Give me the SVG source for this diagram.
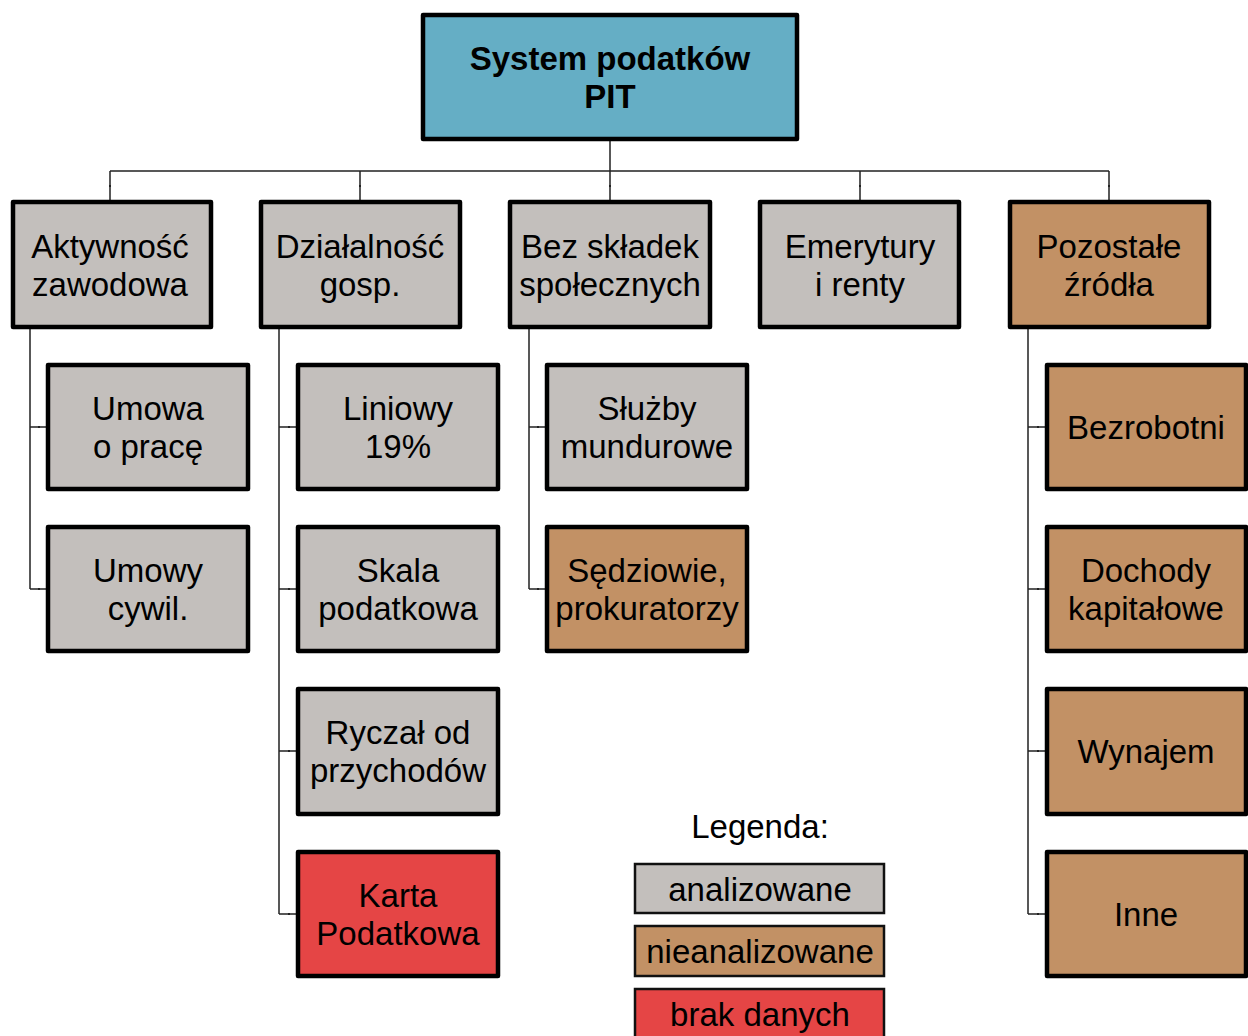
<svg xmlns="http://www.w3.org/2000/svg" width="1248" height="1036" viewBox="0 0 1248 1036">
<style>
.box{stroke:#000;stroke-width:4.5;stroke-linejoin:round}
.g{fill:#C3BFBC}.t{fill:#C29165}.r{fill:#E54545}.b{fill:#65AEC5}
.lg{stroke:#111;stroke-width:2.5}
text{font-family:"Liberation Sans",Arial,sans-serif;font-size:33px;fill:#000;text-anchor:middle}
.bold{font-weight:bold}
.c{fill:none;stroke:#222;stroke-width:1.5}
.dot{fill:#222}
</style>
<rect width="1248" height="1036" fill="#fff"/>
<g id="connectors">
<path class="c" d="M610 141V171M110 171H1109M110 171V202M360 171V202M610 171V202M860 171V202M1109 171V202"/>
<path class="c" d="M30 329V589M30 427H48M30 589H48"/>
<path class="c" d="M279 329V914M279 427H298M279 589H298M279 751H298M279 914H298"/>
<path class="c" d="M529 329V589M529 427H547M529 589H547"/>
<path class="c" d="M1028 329V914M1028 427H1047M1028 589H1047M1028 751H1047M1028 914H1047"/>
<g class="dot">
<rect x="109" y="185" width="2" height="2"/><rect x="359" y="185" width="2" height="2"/><rect x="609" y="185" width="2" height="2"/><rect x="859" y="185" width="2" height="2"/><rect x="1108" y="185" width="2" height="2"/>
<rect x="38" y="426" width="2" height="2"/><rect x="38" y="588" width="2" height="2"/>
<rect x="288" y="426" width="2" height="2"/><rect x="288" y="588" width="2" height="2"/><rect x="288" y="750" width="2" height="2"/><rect x="288" y="913" width="2" height="2"/>
<rect x="537" y="426" width="2" height="2"/><rect x="537" y="588" width="2" height="2"/>
<rect x="1037" y="426" width="2" height="2"/><rect x="1037" y="588" width="2" height="2"/><rect x="1037" y="750" width="2" height="2"/><rect x="1037" y="913" width="2" height="2"/>
</g>
</g>
<g id="root"><rect class="box b" x="423" y="15" width="374" height="124"/><text class="bold" x="610" y="70">System podatków</text><text class="bold" x="610" y="108">PIT</text></g>
<g id="aktywnosc"><rect class="box g" x="13" y="202" width="198" height="125"/><text x="110" y="258">Aktywność</text><text x="110" y="296">zawodowa</text></g>
<g id="dzialalnosc"><rect class="box g" x="261" y="202" width="199" height="125"/><text x="360" y="258">Działalność</text><text x="360" y="296">gosp.</text></g>
<g id="bezskladek"><rect class="box g" x="510" y="202" width="200" height="125"/><text x="610" y="258">Bez składek</text><text x="610" y="296">społecznych</text></g>
<g id="emerytury"><rect class="box g" x="760" y="202" width="199" height="125"/><text x="860" y="258">Emerytury</text><text x="860" y="296">i renty</text></g>
<g id="pozostale"><rect class="box t" x="1010" y="202" width="199" height="125"/><text x="1109" y="258">Pozostałe</text><text x="1109" y="296">źródła</text></g>
<g id="umowa"><rect class="box g" x="48" y="365" width="200" height="124"/><text x="148" y="420">Umowa</text><text x="148" y="458">o pracę</text></g>
<g id="umowy"><rect class="box g" x="48" y="527" width="200" height="124"/><text x="148" y="582">Umowy</text><text x="148" y="620">cywil.</text></g>
<g id="liniowy"><rect class="box g" x="298" y="365" width="200" height="124"/><text x="398" y="420">Liniowy</text><text x="398" y="458">19%</text></g>
<g id="skala"><rect class="box g" x="298" y="527" width="200" height="124"/><text x="398" y="582">Skala</text><text x="398" y="620">podatkowa</text></g>
<g id="ryczalt"><rect class="box g" x="298" y="689" width="200" height="125"/><text x="398" y="744">Ryczał od</text><text x="398" y="782">przychodów</text></g>
<g id="karta"><rect class="box r" x="298" y="852" width="200" height="124"/><text x="398" y="907">Karta</text><text x="398" y="945">Podatkowa</text></g>
<g id="sluzby"><rect class="box g" x="547" y="365" width="200" height="124"/><text x="647" y="420">Służby</text><text x="647" y="458">mundurowe</text></g>
<g id="sedziowie"><rect class="box t" x="547" y="527" width="200" height="124"/><text x="647" y="582">Sędziowie,</text><text x="647" y="620">prokuratorzy</text></g>
<g id="bezrobotni"><rect class="box t" x="1047" y="365" width="199" height="124"/><text x="1146" y="439">Bezrobotni</text></g>
<g id="dochody"><rect class="box t" x="1047" y="527" width="199" height="124"/><text x="1146" y="582">Dochody</text><text x="1146" y="620">kapitałowe</text></g>
<g id="wynajem"><rect class="box t" x="1047" y="689" width="199" height="125"/><text x="1146" y="763">Wynajem</text></g>
<g id="inne"><rect class="box t" x="1047" y="852" width="199" height="124"/><text x="1146" y="926">Inne</text></g>
<g id="legend">
<text x="760" y="838">Legenda:</text>
<rect class="lg g" x="635" y="864" width="249" height="49"/><text x="760" y="901">analizowane</text>
<rect class="lg t" x="635" y="926" width="249" height="50"/><text x="760" y="963">nieanalizowane</text>
<rect class="lg r" x="635" y="989" width="249" height="50"/><text x="760" y="1026">brak danych</text>
</g>
</svg>
